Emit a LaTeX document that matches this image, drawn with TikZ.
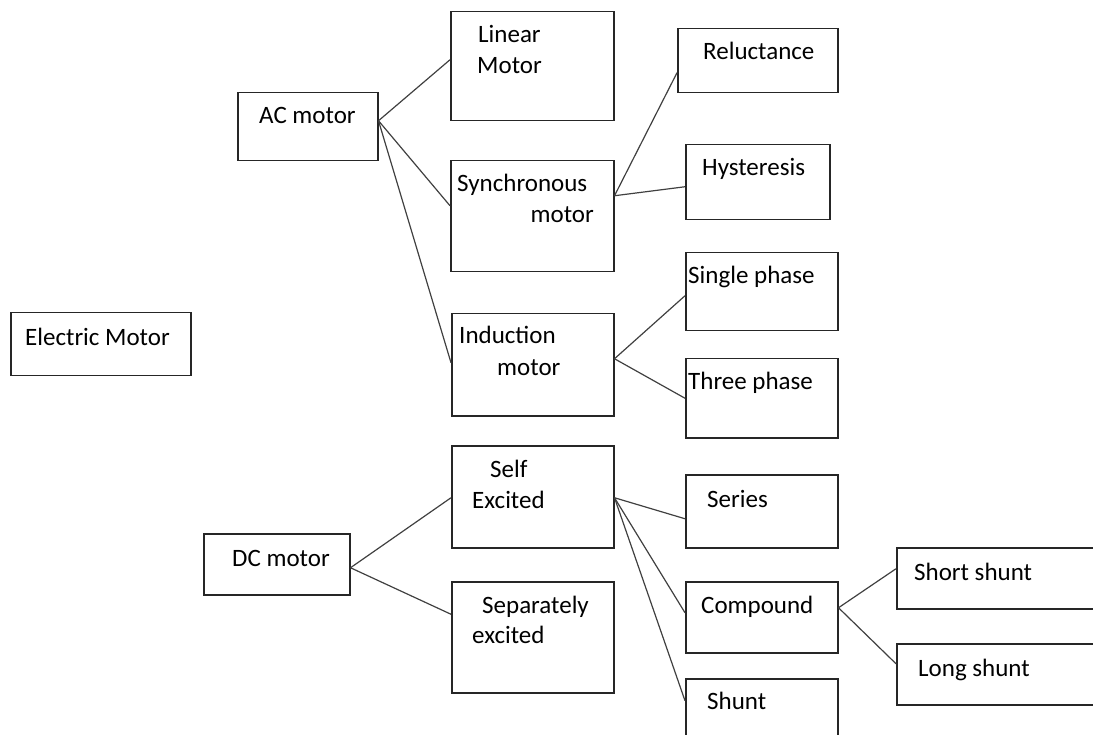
\documentclass[tikz,border=0pt]{standalone}
\usepackage{fontspec}
\setmainfont{Carlito}
\newcommand{\motorlinecolor}[0]{black!85}
\newcommand{\motorwirecolor}[0]{black!75}
\tikzset{
    motorbox/.style={rectangle, draw=\motorlinecolor, line width=1.5pt, anchor=north west, inner sep=0pt},
    motortext/.style={anchor=base west, inner sep=0pt, font=\fontsize{25}{30}\selectfont},
    wire/.style={draw=\motorwirecolor, line width=1.2pt},
}

\begin{document}
\begin{tikzpicture}[x=1pt, y=-1pt]
    \useasboundingbox (0,0) rectangle (1093,735);
    \clip (0,0) rectangle (1093,735);
    % boxes
    \node[motorbox, minimum width=180pt, minimum height=63pt] (elec) at (10,312) {};
    \node[motorbox, minimum width=140pt, minimum height=68pt] (ac) at (237,92) {};
    \node[motorbox, minimum width=146pt, minimum height=61pt] (dc) at (203,533) {};
    \node[motorbox, minimum width=163pt, minimum height=109pt] (linear) at (450,11) {};
    \node[motorbox, minimum width=163pt, minimum height=111pt] (sync) at (450,160) {};
    \node[motorbox, minimum width=162pt, minimum height=102pt] (induct) at (451,313) {};
    \node[motorbox, minimum width=162pt, minimum height=102pt] (self) at (451,445) {};
    \node[motorbox, minimum width=162pt, minimum height=111pt] (sep) at (451,581) {};
    \node[motorbox, minimum width=160pt, minimum height=64pt] (rel) at (677,28) {};
    \node[motorbox, minimum width=144pt, minimum height=75pt] (hyst) at (685,144) {};
    \node[motorbox, minimum width=152pt, minimum height=78pt] (single) at (685,252) {};
    \node[motorbox, minimum width=152pt, minimum height=79pt] (three) at (685,358) {};
    \node[motorbox, minimum width=152pt, minimum height=73pt] (series) at (685,474) {};
    \node[motorbox, minimum width=152pt, minimum height=71pt] (comp) at (685,581) {};
    \node[motorbox, minimum width=152pt, minimum height=70pt] (shunt) at (685,678) {};
    \node[motorbox, minimum width=210pt, minimum height=61pt] (short) at (896,547) {};
    \node[motorbox, minimum width=210pt, minimum height=61pt] (long) at (896,643) {};
    % texts
    \node[motortext] (elec-text) at (25,346) {Electric Motor};
    \node[motortext] (ac-text) at (259,124) {AC motor};
    \node[motortext] (dc-text) at (232,566) {DC motor};
    \node[motortext] (linear-text) at (478,43) {Linear};
    \node[motortext] (linear-text2) at (477,74) {Motor};
    \node[motortext] (sync-text) at (457,192) {Synchronous};
    \node[motortext, anchor=base east] (sync-text2) at (594,223) {motor};
    \node[motortext] (induct-text) at (459,344) {Induction};
    \node[motortext] (induct-text2) at (497,376) {motor};
    \node[motortext] (self-text) at (490,477) {Self};
    \node[motortext] (self-text2) at (472,508) {Excited};
    \node[motortext] (sep-text) at (482,613) {Separately};
    \node[motortext] (sep-text2) at (472,643) {excited};
    \node[motortext] (rel-text) at (703,60) {Reluctance};
    \node[motortext] (hyst-text) at (702,176) {Hysteresis};
    \node[motortext] (single-text) at (688,284) {Single phase};
    \node[motortext] (three-text) at (688,390) {Three phase};
    \node[motortext] (series-text) at (707,507) {Series};
    \node[motortext] (comp-text) at (701,613) {Compound};
    \node[motortext] (shunt-text) at (707,709) {Shunt};
    \node[motortext] (short-text) at (914,580) {Short shunt};
    \node[motortext] (long-text) at (918,676) {Long shunt};
    % connectors
    \draw[wire] ([yshift=6pt]ac.east) -- ([yshift=6.5pt]linear.west);
    \draw[wire] ([yshift=6pt]ac.east) -- ([yshift=10.5pt]sync.west);
    \draw[wire] ([yshift=6pt]ac.east) -- ([yshift=2pt]induct.west);
    \draw[wire] ([yshift=20.5pt]sync.east) -- ([yshift=-12pt]rel.west);
    \draw[wire] ([yshift=20.5pt]sync.east) -- ([yshift=-4.5pt]hyst.west);
    \draw[wire] ([yshift=6pt]induct.east) -- ([yshift=-4pt]single.west);
    \draw[wire] ([yshift=6pt]induct.east) -- (three.west);
    \draw[wire] ([yshift=-3.5pt]dc.east) -- ([yshift=-1pt]self.west);
    \draw[wire] ([yshift=-3.5pt]dc.east) -- ([yshift=23pt]sep.west);
    \draw[wire] ([yshift=-1pt]self.east) -- ([yshift=-7.5pt]series.west);
    \draw[wire] ([yshift=-1pt]self.east) -- ([yshift=4.5pt]comp.west);
    \draw[wire] ([yshift=-1pt]self.east) -- ([yshift=13pt]shunt.west);
    \draw[wire] ([yshift=9.5pt]comp.east) -- ([yshift=9.5pt]short.west);
    \draw[wire] ([yshift=9.5pt]comp.east) -- ([yshift=10.5pt]long.west);
\end{tikzpicture}
\end{document}
